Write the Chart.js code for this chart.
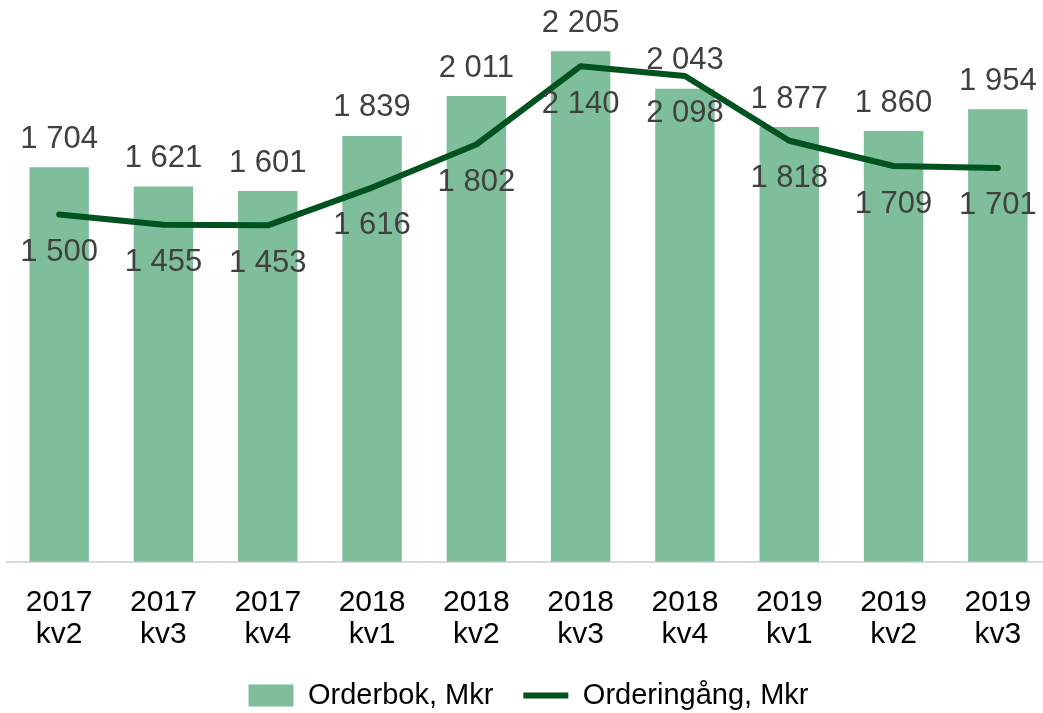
<!DOCTYPE html>
<html><head><meta charset="utf-8">
<script src="https://cdn.jsdelivr.net/npm/chart.js@4"></script>
<style>html,body{margin:0;padding:0;background:#fff;overflow:hidden;width:1043px;height:713px}#w{width:1050px;height:720px}</style>
</head><body><div id="w"><canvas id="c"></canvas></div>
<script>
const categories = [["2017","kv2"],["2017","kv3"],["2017","kv4"],["2018","kv1"],["2018","kv2"],["2018","kv3"],["2018","kv4"],["2019","kv1"],["2019","kv2"],["2019","kv3"]];
const orderbok = [1704,1621,1601,1839,2011,2205,2043,1877,1860,1954];
const orderingang = [1500,1455,1453,1616,1802,2140,2098,1818,1709,1701];
const seriesNames = ["Orderbok, Mkr","Orderingång, Mkr"];
const fmt = v => String(v).replace(/\B(?=(\d{3})+(?!\d))/g, " ");
const FONT = "'Liberation Sans', Arial, sans-serif";
const TICK_PAD = 25;
const labelPlugin = {
  id:'labels',
  afterDatasetsDraw(chart){
    const ctx = chart.ctx;
    ctx.save();
    ctx.font = "31px " + FONT;
    ctx.fillStyle = "#404040";
    ctx.textAlign = "center";
    ctx.textBaseline = "middle";
    chart.getDatasetMeta(1).data.forEach((el,i)=>{
      ctx.fillText(fmt(orderbok[i]), el.x, el.y - 28);
    });
    chart.getDatasetMeta(0).data.forEach((el,i)=>{
      ctx.fillText(fmt(orderingang[i]), el.x, el.y + 38);
    });
    ctx.restore();
  }
};
new Chart(document.getElementById('c'), {
  data:{
    labels: categories,
    datasets:[
      {type:'line', label:seriesNames[1], data:orderingang, borderColor:'#00531f', backgroundColor:'#00531f', borderWidth:6, borderCapStyle:'round', borderJoinStyle:'round', pointRadius:0, tension:0, order:0, pointStyle:'line'},
      {type:'bar', label:seriesNames[0], data:orderbok, backgroundColor:'#7fbe9b', categoryPercentage:1, barPercentage:0.57, order:1, pointStyle:'rect'}
    ]
  },
  options:{
    responsive:true, maintainAspectRatio:false, animation:false,
    layout:{padding:{left:7,right:0,top:6,bottom:0}},
    scales:{
      x:{grid:{display:false,drawTicks:false}, border:{color:'#d9d9d9',width:2},
         ticks:{color:'#000',font:{family:FONT,size:30,lineHeight:1.07},padding:TICK_PAD},
         afterFit(scale){ scale.height -= TICK_PAD; scale.paddingLeft = 0; scale.paddingRight = 0; }},
      y:{display:false,min:0,max:2400}
    },
    plugins:{
      legend:{position:'bottom', reverse:true,
        labels:{usePointStyle:true, pointStyleWidth:45, boxHeight:22, color:'#000', font:{family:FONT,size:29}, padding:30}},
      tooltip:{enabled:false}
    }
  },
  plugins:[labelPlugin]
});
</script></body></html>
